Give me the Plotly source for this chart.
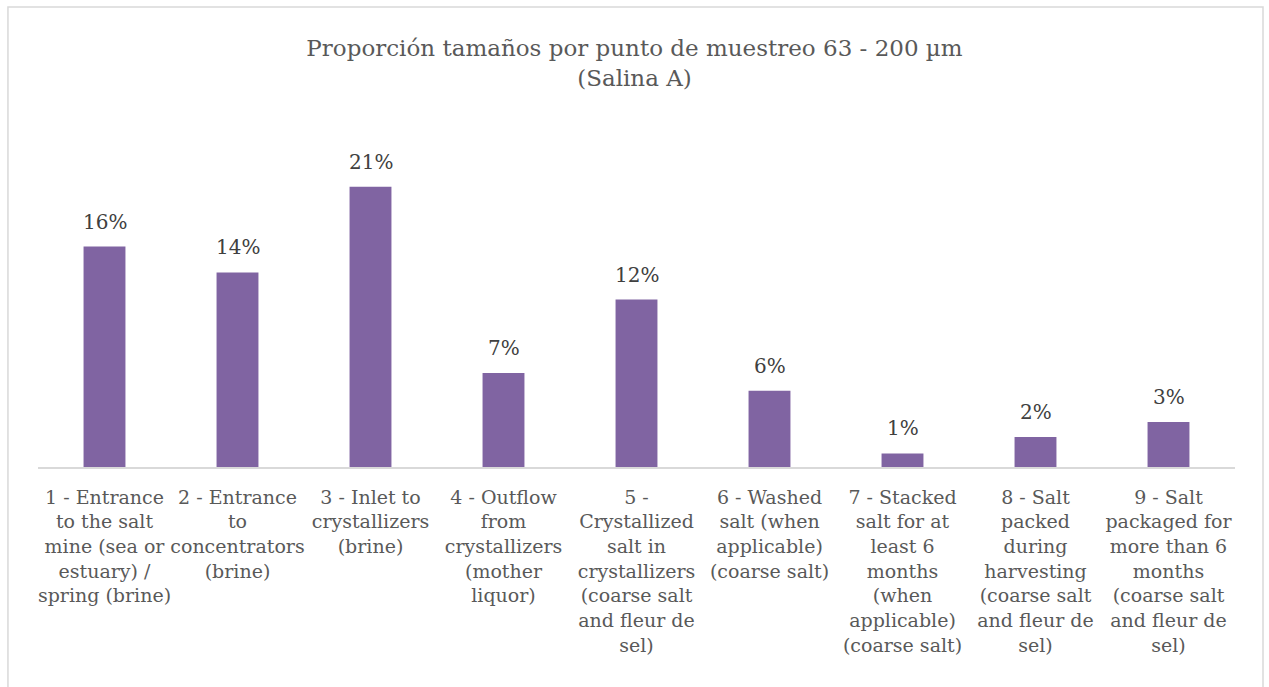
import plotly.graph_objects as go

# Sampling points (x-axis categories, wrapped across lines)
categories = [
    "1 - Entrance<br>to the salt<br>mine (sea or<br>estuary) /<br>spring (brine)",
    "2 - Entrance<br>to<br>concentrators<br>(brine)",
    "3 - Inlet to<br>crystallizers<br>(brine)",
    "4 - Outflow<br>from<br>crystallizers<br>(mother<br>liquor)",
    "5 -<br>Crystallized<br>salt in<br>crystallizers<br>(coarse salt<br>and fleur de<br>sel)",
    "6 - Washed<br>salt (when<br>applicable)<br>(coarse salt)",
    "7 - Stacked<br>salt for at<br>least 6<br>months<br>(when<br>applicable)<br>(coarse salt)",
    "8 - Salt<br>packed<br>during<br>harvesting<br>(coarse salt<br>and fleur de<br>sel)",
    "9 - Salt<br>packaged for<br>more than 6<br>months<br>(coarse salt<br>and fleur de<br>sel)",
]

# Share of 63 - 200 µm particles at each sampling point
proportions = [0.162, 0.143, 0.206, 0.069, 0.123, 0.056, 0.010, 0.022, 0.033]

title_text = "Proporción tamaños por punto de muestreo 63 - 200 µm<br>(Salina A)"

BAR = "#8064A2"
SERIF = "DejaVu Serif"

fig = go.Figure(
    go.Bar(
        x=categories,
        y=proportions,
        marker=dict(color=BAR, line=dict(width=0)),
        hoverinfo="skip",
    )
)

# Percentage labels above each bar
for cat, val in zip(categories, proportions):
    fig.add_annotation(
        x=cat, y=val, xref="x", yref="y",
        text=f"{val:.0%}",
        showarrow=False,
        yanchor="bottom",
        yshift=11,
        font=dict(family=SERIF, size=20, color="#404040"),
    )

# Outer chart frame
fig.add_shape(
    type="rect", xref="paper", yref="paper",
    x0=-0.0251, x1=1.0234, y0=-1.2, y1=1.3256,
    line=dict(color="#D9D9D9", width=1.5),
    fillcolor="rgba(0,0,0,0)", layer="below",
)

fig.update_layout(
    width=1269,
    height=687,
    margin=dict(l=38, r=34, t=120, b=220),
    paper_bgcolor="white",
    plot_bgcolor="white",
    bargap=0.685,
    showlegend=False,
    font=dict(family=SERIF),
    title=dict(
        text=title_text,
        x=0.5, xanchor="center",
        y=0.918, yanchor="top",
        font=dict(family=SERIF, size=23, color="#595959"),
    ),
    xaxis=dict(
        showline=True, linecolor="#D9D9D9", linewidth=1.5,
        showgrid=False, ticks="", zeroline=False,
        tickfont=dict(family=SERIF, size=19, color="#595959"),
        tickangle=0,
        ticklabelstandoff=12,
        fixedrange=True,
    ),
    yaxis=dict(
        range=[0, 0.255],
        visible=False,
        showgrid=False, zeroline=False,
        fixedrange=True,
    ),
)

fig.write_html("out.html")
